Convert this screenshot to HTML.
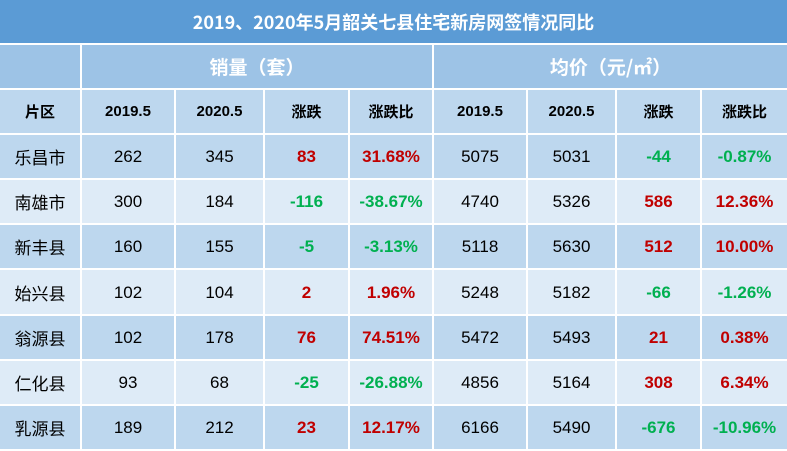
<!DOCTYPE html>
<html><head><meta charset="utf-8"><style>
body{margin:0;width:787px;height:451px;overflow:hidden;background:#fff;font-family:"Liberation Sans","Noto Sans CJK SC",sans-serif}
.c{position:absolute;display:flex;align-items:center;justify-content:center;box-sizing:border-box;font-size:17px;color:#000;line-height:1}
.cjk{font-family:"Noto Sans CJK SC","Liberation Sans",sans-serif}
</style></head><body>
<div id="t" style="position:relative;width:787px;height:451px"></div>
<script>
const regions=["乐昌市","南雄市","新丰县","始兴县","翁源县","仁化县","乳源县"];
const sales2019=[262,300,160,102,102,93,189];
const sales2020=[345,184,155,104,178,68,212];
const salesDiff=[83,-116,-5,2,76,-25,23];
const salesPct=["31.68%","-38.67%","-3.13%","1.96%","74.51%","-26.88%","12.17%"];
const price2019=[5075,4740,5118,5248,5472,4856,6166];
const price2020=[5031,5326,5630,5182,5493,5164,5490];
const priceDiff=[-44,586,512,-66,21,308,-676];
const pricePct=["-0.87%","12.36%","10.00%","-1.26%","0.38%","6.34%","-10.96%"];
const xs=[0,82,176,265,350,434,528,617,702,787];
const t=document.getElementById('t');
function cell(x0,x1,y0,y1,txt,bg,st,name,cjk){
 const d=document.createElement('div');d.className='c'+(cjk?' cjk':'');
 
 
 d.style.left=x0+'px';d.style.top=y0+'px';d.style.width=(x1-x0)+'px';d.style.height=(y1-y0)+'px';
 d.style.background=bg;d.style.borderRight=x1<787?'2px solid #fff':'none';d.style.borderBottom='2px solid #fff';
 d.textContent=txt;if(st)d.style.cssText+=st;t.appendChild(d);return d;
}
cell(0,787,0,45,"2019、2020年5月韶关七县住宅新房网签情况同比","#5b9bd5","color:#fff;font-weight:bold;font-size:18px;border-right:none","title",true);
cell(0,82,45,90,"","#9dc3e6","","header-blank");
cell(82,434,45,90,"销量（套）","#9dc3e6","color:#fff;font-weight:bold;font-size:19px","sales-header",true);
cell(434,787,45,90,"均价（元/㎡）","#9dc3e6","color:#fff;font-weight:bold;font-size:19px","price-header",true);
const h2=["片区","2019.5","2020.5","涨跌","涨跌比","2019.5","2020.5","涨跌","涨跌比"];
h2.forEach((h,i)=>cell(xs[i],xs[i+1],90,135,h,"#bdd7ee","font-weight:bold;font-size:15px","column-header",/[^\x00-\x7f]/.test(h)));
const rh=(451-135)/regions.length;
const col=v=>(typeof v==='string'?v.trim()[0]!=='-':v>=0)?'#c00000':'#00b050';
regions.forEach((r,k)=>{
 const y0=Math.round(135+k*rh),y1=Math.round(135+(k+1)*rh);
 const bg=k%2===0?"#bdd7ee":"#deebf7";
 const vals=[r,sales2019[k],sales2020[k],salesDiff[k],salesPct[k],price2019[k],price2020[k],priceDiff[k],pricePct[k]];
 vals.forEach((v,i)=>{
  const colored=(i===3||i===4||i===7||i===8);
  cell(xs[i],xs[i+1],y0,y1,String(v),bg,colored?"font-weight:bold;color:"+col(v):"",i===0?"region-name":"data-cell",i===0);
 });
});
</script>
</body></html>
